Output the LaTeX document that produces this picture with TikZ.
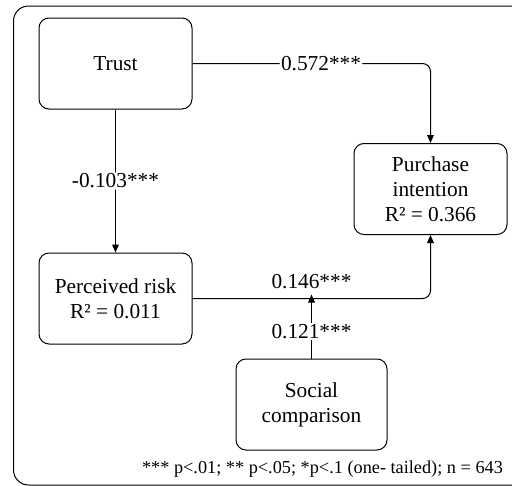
\documentclass[tikz,border=0pt]{standalone}
\usepackage{fontspec}
\setmainfont{Liberation Serif}
\usetikzlibrary{arrows.meta}

\tikzset{every picture/.style={line width=0.75pt}}
\tikzset{
  varbox/.style={draw, rounded corners=7.5pt, align=center, inner sep=0.75pt,
    minimum width=114.75pt, minimum height=68.25pt, font=\fontsize{16}{18.8}\selectfont},
  coef/.style={fill=white, inner sep=1pt, font=\fontsize{16}{18.8}\selectfont},
  path/.style={-{Triangle[length=6pt,width=5pt]}, rounded corners=6pt}
}

\begin{document}
\begin{tikzpicture}[x=0.75pt,y=0.75pt,yscale=-1,xscale=1]
			\useasboundingbox (0,0) rectangle (512,486);
			\clip (0,0) rectangle (512,486);
			% frame
			\draw [rounded corners=11.25pt] (13.5,6) rectangle (540,485);
			% constructs
			\node [varbox] (trust) at (115.5,63.5) {Trust};
			\node [varbox] (purchase) at (430.5,189) {Purchase\\intention\\R² = 0.366};
			\node [varbox] (risk) at (115.5,298.5) {Perceived risk\\R² = 0.011};
			\node [varbox, minimum width=113.25pt] (social) at (311.5,404.5) {Social\\comparison};
			% paths
			\draw [path] (trust.east) -| (purchase.north) node [coef, pos=0.27] {0.572***};
			\draw [path] (trust.south) -- (risk.north) node [coef, midway] {-0.103***};
			\draw [path] (risk.east) -| (purchase.south) node [coef, pos=0.25, anchor=south, fill=none, yshift=6pt] {0.146***};
			\coordinate (moderate) at (social.north |- risk.east);
			\draw [path] (social.north) -- ([yshift=-3pt]moderate) node [coef, pos=0.42] {0.121***};
			% note
			\node [font=\fontsize{13.7}{16}\selectfont, inner sep=0.75pt] (note) at (322.5,469) {*** p<.01; ** p<.05; *p<.1 (one- tailed); n = 643};
\end{tikzpicture}
\end{document}
